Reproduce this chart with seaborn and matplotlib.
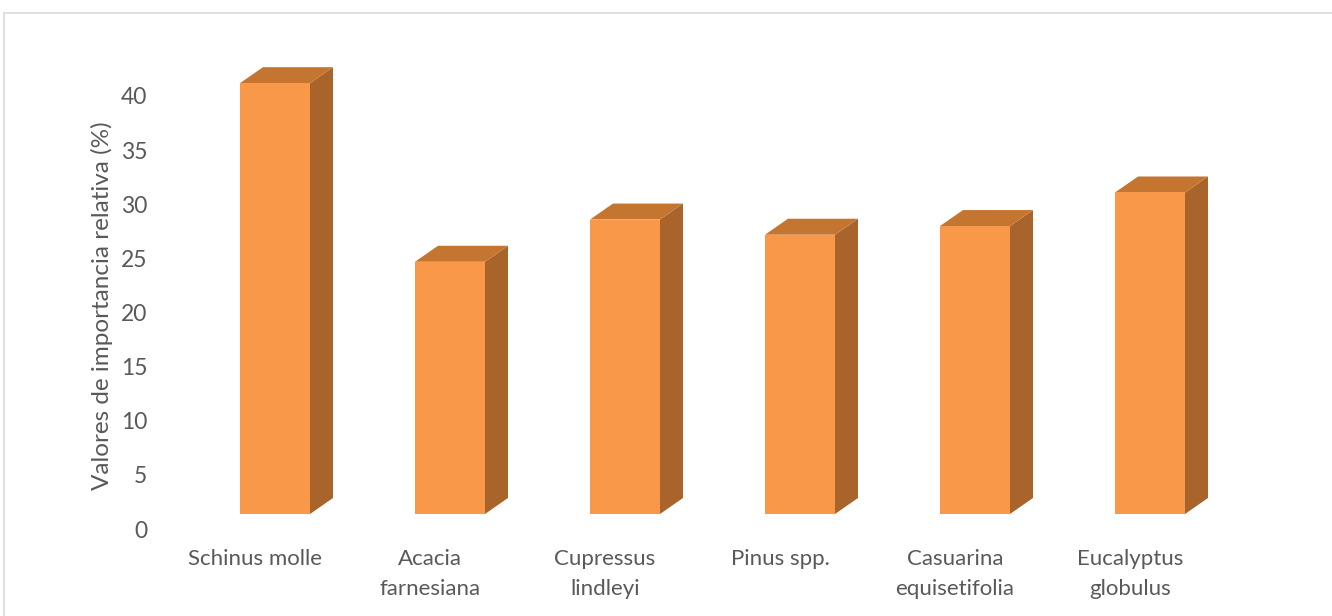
import matplotlib
matplotlib.use("Agg")
import matplotlib.pyplot as plt
import seaborn as sns
import pandas as pd
from matplotlib.patches import Polygon, Rectangle
from matplotlib.transforms import ScaledTranslation

categories = ["Schinus molle", "Acacia\nfarnesiana", "Cupressus\nlindleyi",
              "Pinus spp.", "Casuarina\nequisetifolia", "Eucalyptus\nglobulus"]
values = [39.8, 23.3, 27.2, 25.8, 26.6, 29.7]
y_ticks = [0, 5, 10, 15, 20, 25, 30, 35, 40]
y_label = "Valores de importancia relativa (%)"

front_color = "#F99848"
side_color = "#A9642C"
top_color = "#C47630"
text_color = "#595959"

sns.set_theme(style="white")
plt.rcParams['font.family'] = ['Lato', 'DejaVu Sans']

W, H, DPI = 1332, 616, 100
fig = plt.figure(figsize=(W / DPI, H / DPI), dpi=DPI)
fig.patch.set_facecolor("white")

# chart frame
fig.add_artist(Rectangle((4 / W, -0.1), (W + 10) / W, (H - 13) / H + 0.1,
                         transform=fig.transFigure, fill=False,
                         edgecolor="#D9D9D9", linewidth=1.2))

ax_left, ax_right = 187.5, 1237.5
px_per_unit = 10.825
ymax = 42
y_bottom_px = 514
ax_top_px = y_bottom_px - ymax * px_per_unit
ax = fig.add_axes([ax_left / W, (H - y_bottom_px) / H,
                   (ax_right - ax_left) / W, (y_bottom_px - ax_top_px) / H])

df = pd.DataFrame({"cat": categories, "val": values})
sns.barplot(data=df, x="cat", y="val", color=front_color, width=0.4,
            saturation=1, ax=ax, edgecolor="none")
ax.set_xlim(-0.5, 5.5)
ax.set_ylim(0, ymax)

# 3D depth faces derived from bar geometry
dx = 23 / ((ax_right - ax_left) / 6)
dy = 16 / px_per_unit
for p in list(ax.patches):
    x0, w, h = p.get_x(), p.get_width(), p.get_height()
    side = Polygon([(x0 + w, 0), (x0 + w + dx, dy), (x0 + w + dx, h + dy), (x0 + w, h)],
                   closed=True, facecolor=side_color, edgecolor="none", clip_on=False, zorder=1)
    top = Polygon([(x0, h), (x0 + dx, h + dy), (x0 + w + dx, h + dy), (x0 + w, h)],
                  closed=True, facecolor=top_color, edgecolor="none", clip_on=False, zorder=1)
    ax.add_patch(side)
    ax.add_patch(top)
    p.set_zorder(2)

for s in ax.spines.values():
    s.set_visible(False)

ax.set_yticks(y_ticks)
ax.set_yticklabels([str(t) for t in y_ticks])
ax.tick_params(axis="y", length=0, pad=28.8, labelsize=16.5, labelcolor=text_color)
ax.tick_params(axis="x", length=0, pad=25, labelsize=16, labelcolor=text_color)
for lab in ax.get_yticklabels():
    lab.set_transform(lab.get_transform() + ScaledTranslation(0, -15 / DPI, fig.dpi_scale_trans))
for lab in ax.get_xticklabels():
    lab.set_transform(lab.get_transform() + ScaledTranslation(-20 / DPI, 0, fig.dpi_scale_trans))
    lab.set_linespacing(1.62)

ax.set_xlabel("")
ax.set_ylabel("")
fig.text(102 / W, 1 - 306 / H, y_label, rotation=90, ha="center", va="center",
         fontsize=17.5, color=text_color)

fig.savefig("out.png", dpi=DPI)
